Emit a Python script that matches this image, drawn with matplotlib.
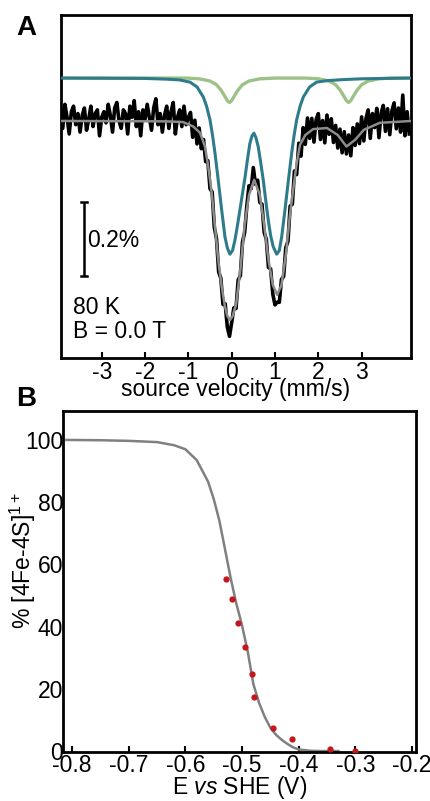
import numpy as np
import matplotlib
matplotlib.use("Agg")
import matplotlib.pyplot as plt

plt.rcParams['font.family'] = ['Liberation Sans', 'DejaVu Sans']
plt.rcParams['mathtext.fontset'] = 'custom'
plt.rcParams['mathtext.rm'] = 'Liberation Sans'
plt.rcParams['mathtext.it'] = 'Liberation Sans:italic'
plt.rcParams['axes.unicode_minus'] = False

# ---- panel A: Mossbauer spectrum (80 K, 0 T), absorption in % ----
vel_start, vel_end = -3.95, 4.10
spectrum = [
    0.030, -0.020, 0.045, 0.010, -0.035, 0.025, 0.040, -0.010, 0.020, -0.030,
    0.015, 0.035, -0.025, 0.005, 0.040, -0.015, 0.020, 0.030, -0.040, 0.010,
    0.025, -0.005, 0.045, 0.015, -0.030, 0.035, 0.050, 0.000, -0.020, 0.030,
    0.020, -0.035, 0.040, 0.010, 0.055, -0.015, 0.025, -0.040, 0.030, 0.005,
    0.045, 0.010, -0.025, 0.035, 0.060, -0.010, 0.020, -0.030, 0.015, 0.040,
    -0.020, 0.025, 0.050, -0.035, 0.010, 0.030, -0.015, 0.040, -0.010, 0.010,
    0.023, -0.044, 0.002, -0.062, -0.019, -0.075, -0.050, -0.110, -0.107, -0.183,
    -0.192, -0.288, -0.318, -0.408, -0.425, -0.496, -0.494, -0.557, -0.582, -0.545,
    -0.505, -0.507, -0.430, -0.418, -0.327, -0.301, -0.230, -0.175, -0.183, -0.126,
    -0.171, -0.160, -0.220, -0.225, -0.301, -0.320, -0.396, -0.400, -0.468, -0.497,
    -0.490, -0.490, -0.428, -0.420, -0.342, -0.325, -0.230, -0.225, -0.135, -0.145,
    -0.060, -0.095, -0.018, -0.063, 0.008, -0.047, 0.007, -0.057, 0.004, 0.020,
    -0.050, 0.001, -0.059, 0.016, -0.036, 0.006, -0.058, -0.012, -0.073, -0.022,
    -0.086, -0.029, -0.089, -0.038, -0.094, -0.018, -0.066, -0.008, -0.061, 0.011,
    -0.054, 0.006, 0.030, -0.047, 0.020, -0.018, 0.034, -0.045, 0.021, 0.042,
    -0.028, 0.033, -0.037, 0.028, 0.049, -0.021, 0.035, -0.030, 0.070, -0.040,
    0.025, -0.035,
]

fit_v = [-3.94, -1.50, -1.12, -0.886, -0.73, -0.616, -0.54, -0.46, -0.385, -0.31,
         -0.23, -0.155, -0.10, -0.04, 0.02, 0.10, 0.20, 0.30, 0.40, 0.52,
         0.65, 0.75, 0.85, 0.95, 1.05, 1.15, 1.25, 1.345, 1.42, 1.50,
         1.576, 1.70, 1.88, 2.20, 2.45, 2.65, 2.85, 3.05, 3.42, 4.14]
fit_y = [0.000, -0.001, -0.003, -0.015, -0.032, -0.069, -0.124, -0.195, -0.286, -0.376,
         -0.448, -0.502, -0.527, -0.538, -0.528, -0.497, -0.403, -0.281, -0.200, -0.159,
         -0.200, -0.281, -0.376, -0.443, -0.470, -0.443, -0.362, -0.254, -0.186, -0.115,
         -0.065, -0.038, -0.022, -0.019, -0.038, -0.069, -0.051, -0.024, -0.005, 0.000]

teal_v = [-3.94, -2.0, -1.5, -1.2, -0.96, -0.80, -0.655, -0.58, -0.50, -0.44,
          -0.385, -0.31, -0.23, -0.155, -0.10, -0.04, 0.02, 0.076, 0.13, 0.19,
          0.25, 0.31, 0.37, 0.42, 0.47, 0.515, 0.56, 0.614, 0.67, 0.73,
          0.79, 0.845, 0.90, 0.96, 1.04, 1.10, 1.155, 1.23, 1.31, 1.385,
          1.44, 1.50, 1.58, 1.655, 1.80, 1.96, 2.2, 2.6, 3.0, 3.5, 4.14]
teal_y = [0.116, 0.115, 0.113, 0.111, 0.105, 0.092, 0.065, 0.040, 0.003, -0.040,
          -0.087, -0.160, -0.241, -0.313, -0.343, -0.360, -0.350, -0.322, -0.285, -0.241,
          -0.196, -0.151, -0.100, -0.061, -0.040, -0.033, -0.045, -0.070, -0.112, -0.160,
          -0.218, -0.268, -0.310, -0.340, -0.360, -0.350, -0.313, -0.241, -0.160, -0.087,
          -0.040, 0.003, 0.040, 0.065, 0.092, 0.105, 0.109, 0.112, 0.114, 0.115, 0.116]

green_v = [-3.94, -1.05, -0.75, -0.50, -0.35, -0.25, -0.20, -0.15, -0.10, -0.05,
           0.00, 0.05, 0.10, 0.15, 0.25, 0.40, 0.65, 1.00, 1.70, 2.00,
           2.25, 2.40, 2.50, 2.55, 2.60, 2.65, 2.70, 2.75, 2.80, 2.85,
           2.90, 3.00, 3.15, 3.40, 3.70, 4.14]
green_y = [0.116, 0.116, 0.114, 0.108, 0.098, 0.084, 0.075, 0.065, 0.055, 0.050,
           0.055, 0.065, 0.075, 0.084, 0.098, 0.108, 0.114, 0.116, 0.116, 0.114,
           0.108, 0.098, 0.084, 0.075, 0.065, 0.055, 0.050, 0.055, 0.065, 0.075,
           0.084, 0.098, 0.108, 0.114, 0.116, 0.116]

# ---- panel B: redox titration ----
pot_pts = [-0.528, -0.518, -0.508, -0.495, -0.482, -0.479, -0.446, -0.412, -0.344, -0.300]
red_pts = [55.2, 49.0, 41.2, 33.3, 24.9, 17.3, 7.5, 3.8, 0.5, 0.0]

nernst_e = [-0.81, -0.75, -0.70, -0.65, -0.62, -0.60, -0.58, -0.56, -0.55, -0.54,
            -0.53, -0.52, -0.51, -0.50, -0.49, -0.48, -0.47, -0.46, -0.45, -0.44,
            -0.43, -0.42, -0.41, -0.40, -0.38, -0.36, -0.33]
nernst_pct = [100.0, 99.9, 99.7, 99.3, 98.3, 97.0, 93.5, 86.6, 81.0, 74.0,
              64.8, 55.5, 47.3, 40.4, 32.0, 21.5, 15.5, 11.0, 7.5, 5.2,
              3.6, 2.3, 1.2, 0.5, 0.1, 0.0, 0.0]

vel_ticks = [-3, -2, -1, 0, 1, 2, 3]
pot_ticks = [-0.8, -0.7, -0.6, -0.5, -0.4, -0.3, -0.2]
pct_ticks = [0, 20, 40, 60, 80, 100]

FS = 16.5
TEAL = '#2e7c8b'
GREEN = '#9dc288'
GRAY = '#8c8c8c'
RED = '#c4161c'

fig = plt.figure(figsize=(4.31, 8.01), dpi=100)

# panel A
axA = fig.add_axes([0.1415, 0.5531, 0.8121, 0.4282])
vel = np.linspace(vel_start, vel_end, len(spectrum))
axA.plot(green_v, green_y, color=GREEN, lw=2.4, zorder=2)
axA.plot(teal_v, teal_y, color=TEAL, lw=2.2, zorder=3)
axA.plot(vel, spectrum, color='black', lw=2.6, zorder=4)
axA.plot(fit_v, fit_y, color=GRAY, lw=1.8, zorder=5)
axA.set_xlim(-3.94, 4.14)
axA.set_ylim(-0.6405, 0.2865)
axA.set_xticks(vel_ticks)
axA.set_xticklabels([str(t) for t in vel_ticks])
axA.set_yticks([])
axA.tick_params(axis='x', direction='in', length=4.5, width=1.5, pad=2, labelsize=FS)
axA.set_xlabel('source velocity (mm/s)', fontsize=FS)
axA.xaxis.set_label_coords(0.5, -0.058)
for s in axA.spines.values():
    s.set_linewidth(2.0)

# 0.2 % scale bar
axA.plot([-3.41, -3.41], [-0.219, -0.419], color='black', lw=1.8, solid_capstyle='butt')
axA.plot([-3.47, -3.35], [-0.219, -0.219], color='black', lw=1.8)
axA.plot([-3.47, -3.35], [-0.419, -0.419], color='black', lw=1.8)
axA.text(-3.33, -0.322, '0.2%', fontsize=FS, ha='left', va='center')
axA.text(-3.66, -0.505, '80 K', fontsize=FS, ha='left', va='center')
axA.text(-3.66, -0.570, 'B = 0.0 T', fontsize=FS, ha='left', va='center')

# panel B
axB = fig.add_axes([0.1462, 0.0612, 0.8190, 0.4257])
axB.plot(nernst_e, nernst_pct, color='#808080', lw=1.8, zorder=2)
axB.plot(pot_pts, red_pts, 'o', color=RED, ms=4.5, mec='none', zorder=3)
axB.set_xlim(-0.816, -0.193)
axB.set_ylim(-0.3, 109.3)
axB.set_xticks(pot_ticks)
axB.set_xticklabels(['%.1f' % t for t in pot_ticks])
axB.set_yticks(pct_ticks)
axB.tick_params(axis='x', direction='in', length=4.5, width=1.5, pad=1.5, labelsize=FS)
axB.tick_params(axis='y', direction='in', length=0, width=1.5, pad=0, labelsize=FS)
axB.set_xlabel(r'E $\mathit{vs}$ SHE (V)', fontsize=FS)
axB.xaxis.set_label_coords(0.5, -0.064)
axB.set_ylabel(r'% [4Fe-4S]$^{1+}$', fontsize=FS)
axB.yaxis.set_label_coords(-0.072, 0.56)
for s in axB.spines.values():
    s.set_linewidth(2.0)

fig.text(0.060, 0.965, 'A', fontsize=20, fontweight='bold', ha='center', va='center')
fig.text(0.060, 0.502, 'B', fontsize=20, fontweight='bold', ha='center', va='center')

fig.savefig('out.png', dpi=100)
